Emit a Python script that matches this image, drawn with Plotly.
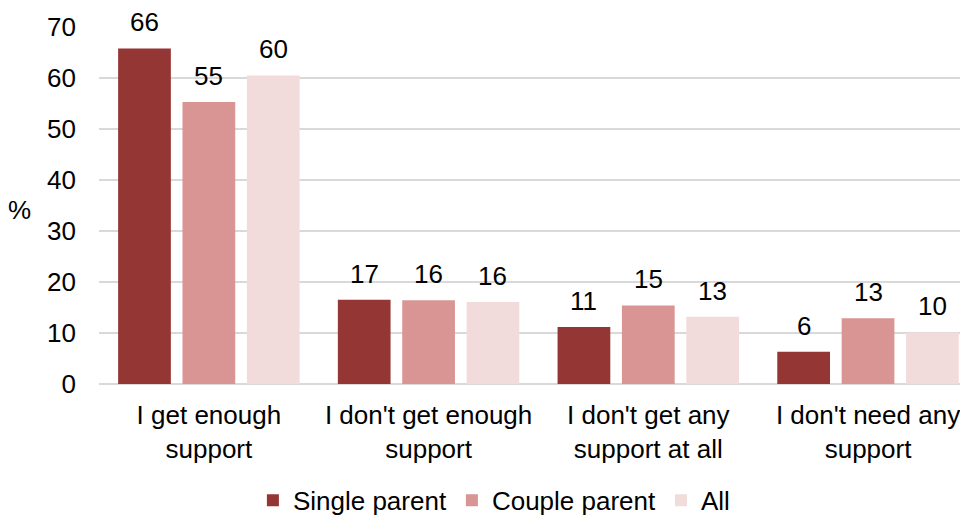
import plotly.graph_objects as go

categories = ["I get enough<br>support", "I don't get enough<br>support",
              "I don't get any<br>support at all", "I don't need any<br>support"]
series_names = ["Single parent", "Couple parent", "All"]
single_parent = [65.8, 16.5, 11.2, 6.3]
couple_parent = [55.3, 16.4, 15.4, 12.9]
all_parents = [60.5, 16.1, 13.2, 10.1]
single_labels = ["66", "17", "11", "6"]
couple_labels = ["55", "16", "15", "13"]
all_labels = ["60", "16", "13", "10"]
y_ticks = [0, 10, 20, 30, 40, 50, 60, 70]

colors = ["#943634", "#d99594", "#f2dcdb"]
values = [single_parent, couple_parent, all_parents]
labels = [single_labels, couple_labels, all_labels]
offsets = [-0.413, -0.12, 0.173]
BAR_W = 0.24

FONT = "Liberation Sans, Arial, sans-serif"
FS = 26
fig = go.Figure()
annotations = []
for name, vals, labs, col, off in zip(series_names, values, labels, colors, offsets):
    xs = list(range(len(categories)))
    fig.add_trace(go.Bar(
        x=xs, y=vals, name=name,
        marker=dict(color=col, line=dict(width=0)),
        width=BAR_W, offset=off,
    ))
    for xi, v, lab in zip(xs, vals, labs):
        annotations.append(dict(
            text=lab, x=xi + off + BAR_W / 2, y=v, xref="x", yref="y",
            showarrow=False, yanchor="bottom", xanchor="center", yshift=9,
            font=dict(size=FS, color="#000000", family=FONT)))

annotations.append(dict(text="%", xref="paper", yref="paper", x=-0.091, y=0.487,
                        showarrow=False, font=dict(size=FS), xanchor="center",
                        yanchor="middle"))

# page has an 8px body margin: figure is 960x510 placed at (8, 8)
fig.update_layout(
    width=960, height=510,
    margin=dict(l=91, r=0, t=19, b=134, autoexpand=False),
    paper_bgcolor="white", plot_bgcolor="white",
    barmode="overlay",
    font=dict(family=FONT, size=FS, color="#000000"),
    showlegend=True,
    legend=dict(orientation="h", x=0.455, xanchor="center", xref="paper",
                y=-0.26, yanchor="top", font=dict(size=FS),
                itemwidth=30, tracegroupgap=0),
    xaxis=dict(range=[-0.5, 3.455], tickmode="array",
               tickvals=list(range(len(categories))), ticktext=categories,
               showgrid=False, showline=False, zeroline=False, automargin=False,
               tickfont=dict(size=FS), ticks="", ticklabelstandoff=13),
    yaxis=dict(range=[0, 70], tickmode="array", tickvals=y_ticks,
               showgrid=True, gridcolor="#d9d9d9", gridwidth=2,
               zeroline=True, zerolinecolor="#d9d9d9", zerolinewidth=2,
               showline=False, tickfont=dict(size=FS), ticks="", automargin=False,
               ticklabelstandoff=22),
    annotations=annotations,
)

fig.write_html("out.html")
